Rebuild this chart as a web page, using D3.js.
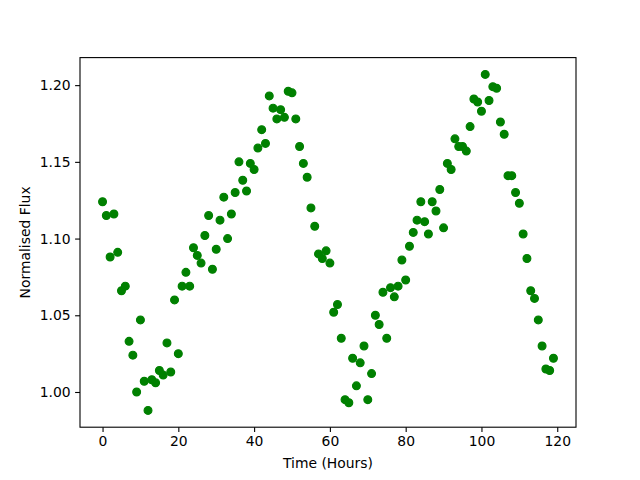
<!DOCTYPE html>
<html>
<head>
<meta charset="utf-8">
<script src="https://cdn.jsdelivr.net/npm/d3@7"></script>
<style>
  body { margin: 0; background: #fff; }
  svg text { font-family: "DejaVu Sans", sans-serif; }
</style>
</head>
<body>
<div id="chart"></div>
<script>
// time in hours, one sample per hour
const hours = d3.range(0, 120);

// normalised flux
const flux = [
  1.124, 1.115, 1.088, 1.116, 1.091, 1.066, 1.069, 1.033, 1.024, 1.000,
  1.047, 1.007, 0.988, 1.008, 1.006, 1.014, 1.011, 1.032, 1.013, 1.060,
  1.025, 1.069, 1.078, 1.069, 1.094, 1.089, 1.084, 1.102, 1.115, 1.080,
  1.093, 1.112, 1.127, 1.100, 1.116, 1.130, 1.150, 1.138, 1.131, 1.149,
  1.145, 1.159, 1.171, 1.162, 1.193, 1.185, 1.178, 1.184, 1.179, 1.196,
  1.195, 1.178, 1.160, 1.149, 1.140, 1.120, 1.108, 1.090, 1.087, 1.092,
  1.084, 1.052, 1.057, 1.035, 0.995, 0.993, 1.022, 1.004, 1.019, 1.030,
  0.995, 1.012, 1.050, 1.044, 1.065, 1.035, 1.068, 1.062, 1.069, 1.086,
  1.073, 1.095, 1.104, 1.112, 1.124, 1.111, 1.103, 1.124, 1.118, 1.132,
  1.107, 1.149, 1.145, 1.165, 1.160, 1.160, 1.157, 1.173, 1.191, 1.189,
  1.183, 1.207, 1.190, 1.199, 1.198, 1.176, 1.168, 1.141, 1.141, 1.130,
  1.123, 1.103, 1.087, 1.066, 1.061, 1.047, 1.030, 1.015, 1.014, 1.022
];

const xTicks = [0, 20, 40, 60, 80, 100, 120];
const yTicks = [1.00, 1.05, 1.10, 1.15, 1.20];

const width = 640, height = 480;
const margin = {left: 80, right: 64, top: 57.6, bottom: 52.8};

const svg = d3.select("#chart")
  .append("svg")
    .attr("width", width)
    .attr("height", height);

// 5% padding like matplotlib autoscale
const xExt = d3.extent(hours), yExt = d3.extent(flux);
const xPad = (xExt[1] - xExt[0]) * 0.05, yPad = (yExt[1] - yExt[0]) * 0.05;

const x = d3.scaleLinear()
  .domain([xExt[0] - xPad, xExt[1] + xPad])
  .range([margin.left, width - margin.right]);

const y = d3.scaleLinear()
  .domain([yExt[0] - yPad, yExt[1] + yPad])
  .range([height - margin.bottom, margin.top]);

// points
svg.append("g")
  .selectAll("circle")
  .data(hours)
  .join("circle")
    .attr("cx", d => x(d))
    .attr("cy", (d, i) => y(flux[i]))
    .attr("r", 3.9)
    .attr("fill", "#008000")
    .attr("stroke", "#008000")
    .attr("stroke-width", 1.2);

// axes
const xAxis = svg.append("g")
  .attr("transform", `translate(0,${height - margin.bottom})`)
  .call(d3.axisBottom(x).tickValues(xTicks).tickSize(4.9).tickPadding(4.5).tickFormat(d3.format("d")));

const yAxis = svg.append("g")
  .attr("transform", `translate(${margin.left},0)`)
  .call(d3.axisLeft(y).tickValues(yTicks).tickSize(4.9).tickPadding(4.5).tickFormat(d3.format(".2f")));

[xAxis, yAxis].forEach(g => {
  g.select(".domain").remove();
  g.selectAll("line").attr("stroke", "#000").attr("stroke-width", 1.1);
  g.selectAll("text").attr("fill", "#000").style("font-size", "13.9px").style("font-family", "DejaVu Sans, sans-serif");
});

// frame
svg.append("rect")
  .attr("x", margin.left)
  .attr("y", margin.top)
  .attr("width", width - margin.left - margin.right)
  .attr("height", height - margin.top - margin.bottom)
  .attr("fill", "none")
  .attr("stroke", "#000")
  .attr("stroke-width", 1.1);

// labels
svg.append("text")
  .attr("x", (margin.left + width - margin.right) / 2)
  .attr("y", 468)
  .attr("text-anchor", "middle")
  .style("font-size", "13.9px")
  .text("Time (Hours)");

svg.append("text")
  .attr("transform", `translate(30,${(margin.top + height - margin.bottom) / 2}) rotate(-90)`)
  .attr("text-anchor", "middle")
  .style("font-size", "13.9px")
  .text("Normalised Flux");
</script>
</body>
</html>
